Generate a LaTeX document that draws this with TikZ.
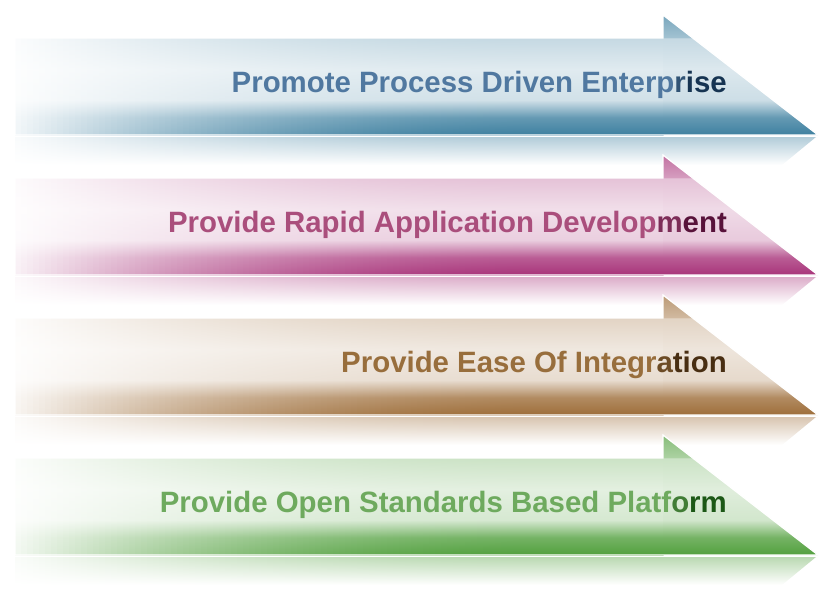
\documentclass[tikz,border=0pt]{standalone}
\usepackage{fontspec}
\setmainfont{Liberation Sans}

\definecolor{bandblue}{RGB}{62,128,160}
\definecolor{textblue}{RGB}{80,120,160}
\definecolor{deepblue}{RGB}{22,52,82}
\definecolor{bandpink}{RGB}{168,52,122}
\definecolor{textpink}{RGB}{170,78,124}
\definecolor{deeppink}{RGB}{88,18,58}
\definecolor{bandbrown}{RGB}{158,110,58}
\definecolor{textbrown}{RGB}{152,110,60}
\definecolor{deepbrown}{RGB}{72,46,18}
\definecolor{bandgreen}{RGB}{82,160,62}
\definecolor{textgreen}{RGB}{110,170,94}
\definecolor{deepgreen}{RGB}{28,88,22}

% the head: 25bp is the bottom edge, 75bp the top of the head
\newcommand{\headshading}[1]{%
  \pgfdeclareverticalshading{head#1}{100bp}{color(0bp)=(band#1); color(25bp)=(band#1);
    color(32.3bp)=(band#1!80!white); color(39.6bp)=(band#1!26!white); color(52.5bp)=(band#1!18!white);
    color(65.4bp)=(band#1!30!white); color(65.5bp)=(band#1!48!white); color(75bp)=(band#1!70!white);
    color(100bp)=(band#1!70!white)}}
\headshading{blue}
\headshading{pink}
\headshading{brown}
\headshading{green}

\begin{document}
\begin{tikzpicture}[x=1pt,y=-1pt]
  \useasboundingbox (0,0) rectangle (823,590);

  \foreach \n/\col in {0/blue,1/pink,2/brown,3/green} {
    % left part of the body, strip by strip out of the white
    \foreach \x in {15,21,...,531} {
      \pgfmathsetmacro\a{1-0.92*(1-(\x-15)/520)^2}
      \pgfmathsetmacro\pa{30*\a}
      \pgfmathsetmacro\pb{16*\a}
      \pgfmathsetmacro\pc{24*\a}
      \pgfmathsetmacro\pd{80*\a}
      \pgfmathsetmacro\pe{100*\a}
      \pgfmathsetmacro\pr{40*\a}
      \shade[top color=band\col!\pa!white, bottom color=band\col!\pc!white, middle color=band\col!\pb!white]
        (\x,38+140*\n) rectangle (\x+6.8,100.5+140*\n);
      \shade[top color=band\col!\pc!white, bottom color=band\col!\pe!white, middle color=band\col!\pd!white]
        (\x,100+140*\n) rectangle (\x+6.8,135+140*\n);
      \shade[top color=band\col!\pr!white, bottom color=white]
        (\x,137+140*\n) rectangle (\x+6.8,165+140*\n);
    }
    % right part of the body and its mirror
    \shade[top color=band\col!30!white, bottom color=band\col!24!white, middle color=band\col!16!white]
      (535,38+140*\n) rectangle (663.5,100.5+140*\n);
    \shade[top color=band\col!24!white, bottom color=band\col, middle color=band\col!80!white]
      (535,100+140*\n) rectangle (663.5,135+140*\n);
    \shade[top color=band\col!40!white, bottom color=white]
      (535,137+140*\n) -- (816,137+140*\n) -- (782,165+140*\n) -- (535,165+140*\n) -- cycle;
    % the head
    \shade[shading=head\col] (663,15+140*\n) -- (818,135+140*\n) -- (663,135+140*\n) -- cycle;
    % white rim
    \draw[white, line width=1.2pt]
      (15,38+140*\n) -- (663,38+140*\n) -- (663,15+140*\n) -- (818,135+140*\n)
      -- (15,135+140*\n) -- cycle;
  }

  \foreach \n/\col/\first/\mid/\last in {0/blue/Promote Process Driven Enterp/r/ise,
      1/pink/Provide Rapid Application Develop/m/ent,
      2/brown/Provide Ease Of Integr/a/tion,
      3/green/Provide Open Standards Based Platf/o/rm} {
    \node[anchor=base east, inner sep=0pt, font=\bfseries\fontsize{29.4}{32}\selectfont]
      (label\n) at (727,92+140*\n)
      {\textcolor{text\col}{\first}\textcolor{text\col!45!deep\col}{\mid}\textcolor{deep\col}{\last}};
  }
\end{tikzpicture}
\end{document}
